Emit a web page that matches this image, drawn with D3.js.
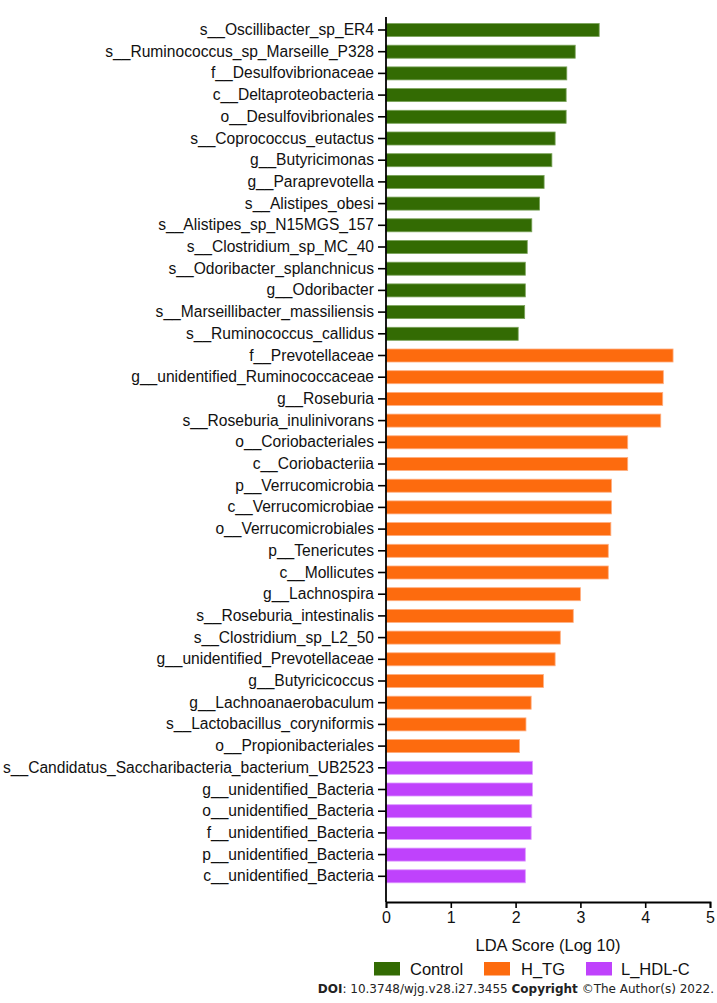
<!DOCTYPE html>
<html>
<head>
<meta charset="utf-8">
<script src="https://cdn.jsdelivr.net/npm/d3@7"></script>
<style>
  body { margin: 0; background: #fff; }
  svg { display: block; font-family: "Liberation Sans", Arial, sans-serif; }
</style>
</head>
<body>
<div id="chart"></div>
<script>
// taxa, top to bottom
const taxa = [
  "s__Oscillibacter_sp_ER4", "s__Ruminococcus_sp_Marseille_P328", "f__Desulfovibrionaceae",
  "c__Deltaproteobacteria", "o__Desulfovibrionales", "s__Coprococcus_eutactus",
  "g__Butyricimonas", "g__Paraprevotella", "s__Alistipes_obesi",
  "s__Alistipes_sp_N15MGS_157", "s__Clostridium_sp_MC_40", "s__Odoribacter_splanchnicus",
  "g__Odoribacter", "s__Marseillibacter_massiliensis", "s__Ruminococcus_callidus",
  "f__Prevotellaceae", "g__unidentified_Ruminococcaceae", "g__Roseburia",
  "s__Roseburia_inulinivorans", "o__Coriobacteriales", "c__Coriobacteriia",
  "p__Verrucomicrobia", "c__Verrucomicrobiae", "o__Verrucomicrobiales",
  "p__Tenericutes", "c__Mollicutes", "g__Lachnospira",
  "s__Roseburia_intestinalis", "s__Clostridium_sp_L2_50", "g__unidentified_Prevotellaceae",
  "g__Butyricicoccus", "g__Lachnoanaerobaculum", "s__Lactobacillus_coryniformis",
  "o__Propionibacteriales", "s__Candidatus_Saccharibacteria_bacterium_UB2523", "g__unidentified_Bacteria",
  "o__unidentified_Bacteria", "f__unidentified_Bacteria", "p__unidentified_Bacteria",
  "c__unidentified_Bacteria"
];
const ldaScores = [
  3.29, 2.92, 2.79, 2.78, 2.78, 2.61, 2.56, 2.44, 2.37, 2.25, 2.18, 2.15, 2.15, 2.14, 2.04,
  4.43, 4.28, 4.27, 4.24, 3.73, 3.73, 3.48, 3.48, 3.47, 3.43, 3.43, 3.00, 2.89, 2.69, 2.61,
  2.43, 2.24, 2.16, 2.06,
  2.26, 2.26, 2.25, 2.24, 2.15, 2.15
];
const groups = [
  "Control", "Control", "Control", "Control", "Control", "Control", "Control", "Control",
  "Control", "Control", "Control", "Control", "Control", "Control", "Control",
  "H_TG", "H_TG", "H_TG", "H_TG", "H_TG", "H_TG", "H_TG", "H_TG", "H_TG", "H_TG",
  "H_TG", "H_TG", "H_TG", "H_TG", "H_TG", "H_TG", "H_TG", "H_TG", "H_TG",
  "L_HDL-C", "L_HDL-C", "L_HDL-C", "L_HDL-C", "L_HDL-C", "L_HDL-C"
];
const groupNames = ["Control", "H_TG", "L_HDL-C"];
const xTicks = [0, 1, 2, 3, 4, 5];

const width = 717, height = 1003;
const svg = d3.select("#chart").append("svg")
  .attr("width", width).attr("height", height);

const color = d3.scaleOrdinal(groupNames, ["#336b03", "#fd6b0e", "#bf42fc"]);
const stroke = d3.scaleOrdinal(groupNames, ["#7aa35a", "#ffae80", "#dd99ff"]);

const x = d3.scaleLinear().domain([0, 5]).range([386, 710]);
const y = d3.scaleBand().domain(taxa).range([19.15, 887.15]).paddingInner(0.4).paddingOuter(0.2);

const data = taxa.map((t, i) => ({ name: t, value: ldaScores[i], group: groups[i] }));

// bars
svg.append("g").selectAll("rect")
  .data(data)
  .join("rect")
  .attr("x", x(0))
  .attr("y", d => y(d.name))
  .attr("width", d => x(d.value) - x(0))
  .attr("height", y.bandwidth())
  .attr("fill", d => color(d.group))
  .attr("stroke", d => stroke(d.group))
  .attr("stroke-width", 0.8);

// y axis
const yAxis = svg.append("g")
  .attr("transform", "translate(" + x(0) + ",0)")
  .call(d3.axisLeft(y).tickSize(8).tickPadding(4));
yAxis.select(".domain").remove();
yAxis.selectAll(".tick line").attr("stroke", "#000").attr("stroke-width", 1.6);
yAxis.selectAll(".tick text")
  .attr("fill", "#111")
  .style("font-size", "15.6px")
  .style("font-family", "'Liberation Sans', Arial, sans-serif");
svg.append("line")
  .attr("x1", x(0)).attr("x2", x(0))
  .attr("y1", 17).attr("y2", 902)
  .attr("stroke", "#000").attr("stroke-width", 1.8);

// x axis
const xAxis = svg.append("g")
  .attr("transform", "translate(0,902)")
  .call(d3.axisBottom(x).tickValues(xTicks).tickFormat(d3.format("d")).tickSize(6).tickPadding(4));
xAxis.select(".domain").attr("stroke", "#000").attr("stroke-width", 1.8);
xAxis.selectAll(".tick line").attr("stroke", "#000").attr("stroke-width", 1.6);
xAxis.selectAll(".tick text")
  .attr("fill", "#111")
  .style("font-size", "16px")
  .style("font-family", "'Liberation Sans', Arial, sans-serif");

svg.append("text")
  .attr("x", 548).attr("y", 951)
  .attr("text-anchor", "middle")
  .style("font-size", "16.5px")
  .attr("fill", "#111")
  .text("LDA Score (Log 10)");

// legend
const legendX = [374, 484, 586];
const legend = svg.append("g").selectAll("g")
  .data(groupNames)
  .join("g")
  .attr("transform", (d, i) => "translate(" + legendX[i] + ",962)");
legend.append("rect")
  .attr("width", 26).attr("height", 13.5)
  .attr("fill", d => color(d));
legend.append("text")
  .attr("x", (d, i) => [36, 37, 35][i])
  .attr("y", 12.5)
  .style("font-size", "16.5px")
  .attr("fill", "#111")
  .text(d => d);

// footer
const foot = svg.append("text")
  .attr("x", 714).attr("y", 993)
  .attr("text-anchor", "end")
  .style("font-family", "'DejaVu Sans', Verdana, sans-serif")
  .style("font-size", "12px")
  .attr("fill", "#222");
foot.append("tspan").style("font-weight", "bold").text("DOI");
foot.append("tspan").text(": 10.3748/wjg.v28.i27.3455 ");
foot.append("tspan").style("font-weight", "bold").text("Copyright");
foot.append("tspan").text(" \u00A9The Author(s) 2022.");
</script>
</body>
</html>
